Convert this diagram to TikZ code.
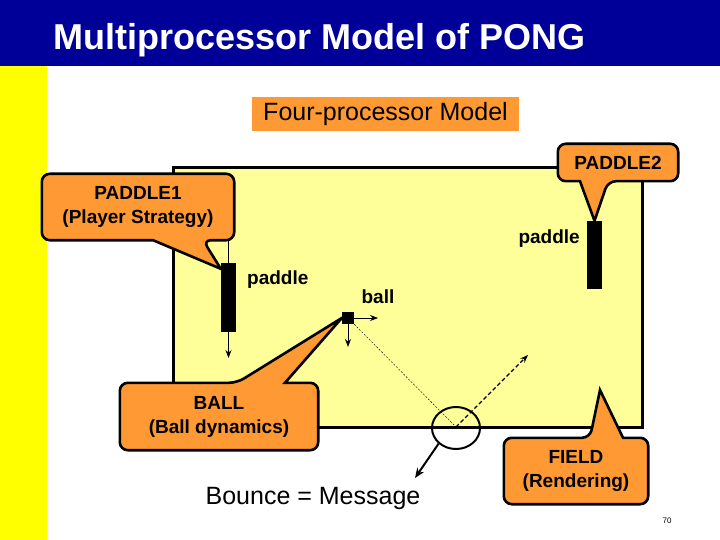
\documentclass[tikz,border=0pt]{standalone}
\usepackage[svgnames]{xcolor}
\usepackage{fontspec}
\setmainfont{Liberation Sans}
\usetikzlibrary{
  arrows.meta,
  backgrounds,
  shapes.geometric
}
\definecolor{slideblue}{RGB}{0,0,153}
\definecolor{strip}{RGB}{255,255,0}
\definecolor{bubble}{RGB}{255,153,51}
\definecolor{court}{RGB}{255,255,153}

\begin{document}
\begin{tikzpicture}[x=1pt,y=-1pt,
  every node/.style={inner sep=0pt},
  bubbletext/.style={font=\fontsize{19}{24}\selectfont\bfseries, align=center},
  bubble/.style={draw, fill=bubble, line width=2.6pt, rounded corners=8pt},
  bar/.style={fill=black, minimum width=15pt},
  tag/.style={font=\fontsize{19}{22}\selectfont\bfseries},
  arr/.style={-{Stealth[length=8pt,width=6pt]}, line width=0.8pt}]
\useasboundingbox (0,0) rectangle (720,540);
\node[anchor=base west, text=white, font=\fontsize{36}{40}\selectfont\bfseries] (title) at (53,50) {Multiprocessor Model of PONG};
\node[fill=bubble, minimum width=267pt, minimum height=34pt, font=\fontsize{25}{30}\selectfont] (model) at (385.5,114) {Four-processor Model};

\node[draw=none, minimum width=468pt, minimum height=259pt] (field) at (408,297.5) {};
\node[bar, minimum height=69pt] (bar1) at (228.5,297.5) {};
\node[bar, minimum height=68pt] (bar2) at (594.5,255) {};
\node[fill=black, minimum size=12pt] (ball) at (348,318) {};
\node[tag, anchor=west] (paddle1) at (247,280) {paddle};
\node[tag, anchor=east] (paddle2) at (580,239) {paddle};
\node[tag] (balltag) at (378,297) {ball};

\node[bubbletext, minimum width=192pt, minimum height=66pt] (pad1) at (138,207) {PADDLE1\\(Player Strategy)};
\node[bubbletext, minimum width=120pt, minimum height=37pt] (pad2) at (618,162.5) {PADDLE2};
\node[bubbletext, minimum width=198pt, minimum height=67pt] (ballp) at (219,416.5) {BALL\\(Ball dynamics)};
\node[bubbletext, minimum width=144pt, minimum height=66pt] (fieldp) at (576,471) {FIELD\\(Rendering)};

\coordinate (down1) at (228.5,358);
\coordinate (ballx) at (378,318);
\coordinate (bally) at (348,347);
\coordinate (bounce) at (456,427);
\coordinate (rebound) at (528,355);
\coordinate (msg) at (415,478);
\coordinate (fieldtip) at (600,390);

\node[ellipse, draw, line width=2pt, minimum width=48pt, minimum height=42pt] (lens) at (456,428) {};
\node[font=\fontsize{25}{30}\selectfont] (bouncemsg) at (313,498) {Bounce = Message};
\node[font=\fontsize{8}{9}\selectfont] (page) at (667,521) {70};

\draw[line width=0.8pt] (bar1.north) -- (bar1.north |- pad1.south);
\draw[arr] (bar1.south) -- (down1);
\draw[arr] (ball.east) -- (ballx);
\draw[arr] (ball.south) -- (bally);
\draw[line width=0.4pt, dash pattern=on 2pt off 1.5pt] (ball.south east) -- (bounce);
\draw[arr, line width=1.3pt, dash pattern=on 4pt off 2.5pt] (bounce) -- (rebound);
\draw[-{Stealth[length=10pt,width=8pt]}, line width=2pt] (lens.222) -- (msg);

\begin{scope}[on background layer]
\fill[slideblue] (0,0) rectangle (720,66);
\fill[strip] (0,66) rectangle (47,540);
\draw[fill=court, line width=3pt] (field.north west) rectangle (field.south east);
\draw[bubble] (pad1.west) |- (pad1.north east) |- ([xshift=65pt]pad1.south) [sharp corners] -- ([yshift=-6pt]bar1.north west) -- ([xshift=15pt]pad1.south) [rounded corners=8pt] -- (pad1.south west) -- cycle;
\draw[bubble] (pad2.west) |- (pad2.north east) |- ([xshift=-10pt]pad2.south) [sharp corners] -- (bar2.north) -- ([xshift=-38pt]pad2.south) [rounded corners=8pt] -- (pad2.south west) -- cycle;
\draw[bubble] (ballp.west) |- ([xshift=18pt]ballp.north) [sharp corners] -- (ball.west) -- ([xshift=66pt]ballp.north) [rounded corners=8pt] -| (ballp.east) |- (ballp.south west) -- cycle;
\draw[bubble] (fieldp.west) |- ([xshift=14pt]fieldp.north) [sharp corners] -- (fieldtip) -- ([xshift=47pt]fieldp.north) [rounded corners=8pt] -| (fieldp.east) |- (fieldp.south west) -- cycle;
\end{scope}
\end{tikzpicture}
\end{document}
